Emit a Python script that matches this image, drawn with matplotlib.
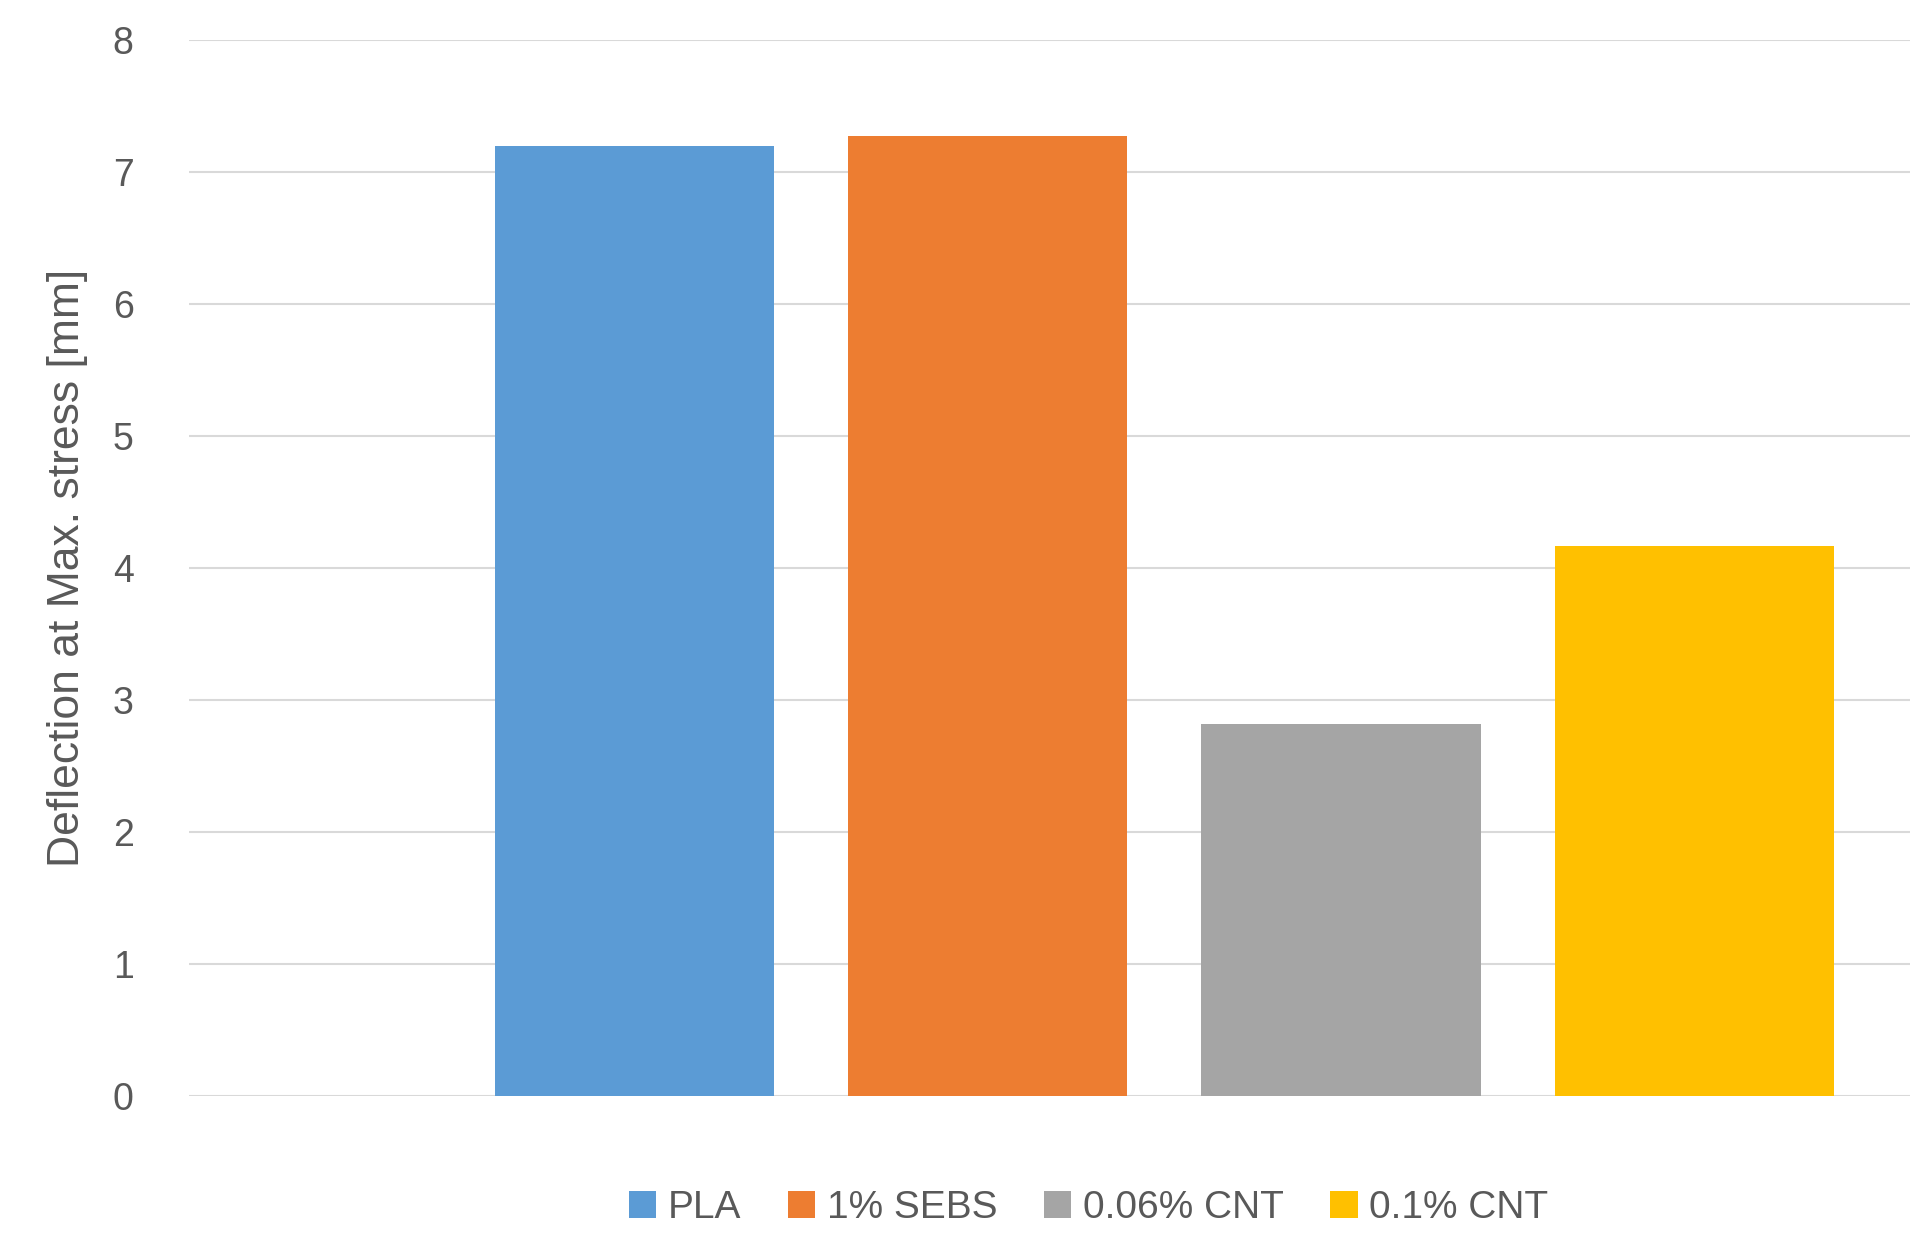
import matplotlib
matplotlib.use("Agg")
import matplotlib.pyplot as plt

materials = ["PLA", "1% SEBS", "0.06% CNT", "0.1% CNT"]
deflection = [7.2, 7.27, 2.82, 4.17]
colors = ["#5b9bd5", "#ed7d31", "#a5a5a5", "#ffc000"]

plt.rcParams["font.family"] = ["Liberation Sans", "DejaVu Sans"]
fig = plt.figure(figsize=(19.1, 12.51), dpi=100)
ax = fig.add_axes([0.099, 0.124, 0.901, 0.844])

pos = [1, 2, 3, 4]
for p, v, c, lab in zip(pos, deflection, colors, materials):
    ax.bar(p, v, width=0.79, color=c, label=lab, zorder=3)

ax.set_xlim(-0.26, 4.61)
ax.set_ylim(0, 8)
ax.set_yticks(range(0, 9))
ax.set_xticks([])
ax.grid(axis="y", color="#d9d9d9", lw=1.5, zorder=0)
for s in ax.spines.values():
    s.set_visible(False)
ax.tick_params(axis="y", length=0, labelsize=27, colors="#595959", pad=40)
ax.set_ylabel("Deflection at Max. stress [mm]", fontsize=32, color="#595959", labelpad=18)

fig.legend(loc="center", bbox_to_anchor=(0.57, 0.034), ncol=4, frameon=False,
           fontsize=28, labelcolor="#595959", handlelength=0.7, handleheight=0.7,
           handletextpad=0.3, columnspacing=1.2)

fig.savefig("out.png", dpi=100)
